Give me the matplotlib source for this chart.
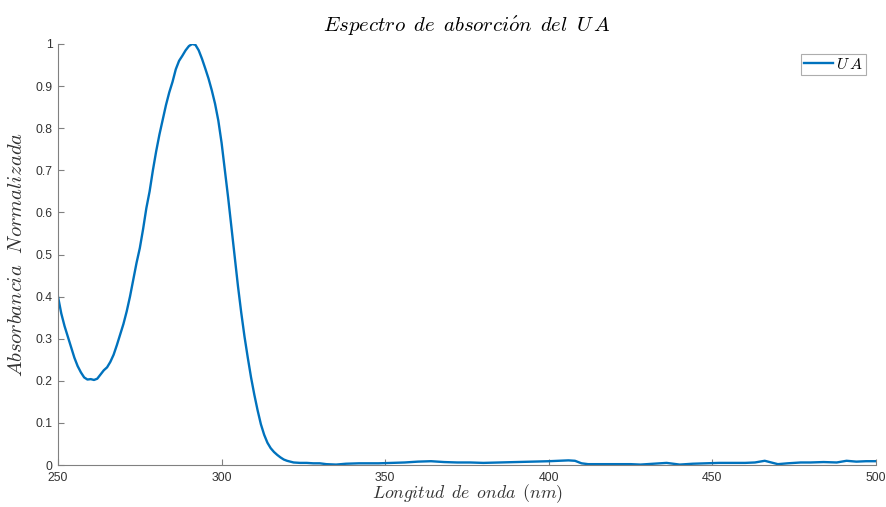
import matplotlib
matplotlib.use("Agg")
import matplotlib.pyplot as plt
from matplotlib.ticker import FuncFormatter

# wavelength (nm) and normalised absorbance
wavelength = [250, 251, 252, 253, 254, 255, 256, 257, 258, 259, 260, 261, 262, 263, 264,
              265, 266, 267, 268, 269, 270, 271, 272, 273, 274, 275, 276, 277, 278, 279,
              280, 281, 282, 283, 284, 285, 286, 287, 288, 289, 290, 291, 292, 293, 294,
              295, 296, 297, 298, 299, 300, 301, 302, 303, 304, 305, 306, 307, 308, 309,
              310, 311, 312, 313, 314, 315, 316, 317, 318, 319, 320, 321, 322, 324, 326,
              328, 330, 332, 335, 338, 342, 348, 352, 356, 360, 364, 368, 372, 376, 380,
              385, 390, 395, 400, 403, 406, 408, 410, 412, 416, 420, 425, 428, 432, 436,
              440, 444, 448, 452, 456, 460, 463, 466, 468, 470, 473, 477, 480, 484, 488,
              491, 494, 497, 500]
absorbance = [0.400, 0.360, 0.330, 0.305, 0.280, 0.255, 0.235, 0.220, 0.208, 0.203,
              0.204, 0.202, 0.205, 0.215, 0.225, 0.232, 0.245, 0.262, 0.285, 0.310,
              0.335, 0.365, 0.400, 0.440, 0.480, 0.515, 0.560, 0.610, 0.650, 0.700,
              0.745, 0.785, 0.820, 0.855, 0.885, 0.910, 0.940, 0.960, 0.972, 0.985,
              0.995, 1.000, 0.998, 0.985, 0.965, 0.942, 0.918, 0.890, 0.858, 0.818,
              0.765, 0.700, 0.635, 0.565, 0.495, 0.425, 0.362, 0.305, 0.255, 0.208,
              0.167, 0.130, 0.097, 0.072, 0.053, 0.040, 0.031, 0.024, 0.018, 0.013,
              0.010, 0.008, 0.006, 0.005, 0.005, 0.004, 0.004, 0.002, 0.001, 0.003,
              0.004, 0.004, 0.005, 0.006, 0.008, 0.009, 0.007, 0.006, 0.006, 0.005,
              0.006, 0.007, 0.008, 0.009, 0.010, 0.011, 0.010, 0.004, 0.002, 0.002,
              0.002, 0.002, 0.001, 0.003, 0.005, 0.001, 0.003, 0.004, 0.005, 0.005,
              0.005, 0.006, 0.010, 0.006, 0.002, 0.004, 0.006, 0.006, 0.007, 0.006,
              0.010, 0.008, 0.009, 0.009]

x_ticks = [250, 300, 350, 400, 450, 500]
y_ticks = [0, 0.1, 0.2, 0.3, 0.4, 0.5, 0.6, 0.7, 0.8, 0.9, 1]

plt.rcParams['mathtext.fontset'] = 'cm'
plt.rcParams['font.family'] = ['Liberation Sans', 'DejaVu Sans']

fig = plt.figure(figsize=(8.87, 5.07), dpi=100)
ax = fig.add_axes([58 / 887, 42 / 507, 818 / 887, 421 / 507])

ax.plot(wavelength, absorbance, color='#0072BD', lw=1.7, label=r'$U\,A$')

ax.set_xlim(250, 500)
ax.set_ylim(0, 1)
ax.set_xticks(x_ticks)
ax.set_yticks(y_ticks)
ax.xaxis.set_major_formatter(FuncFormatter(lambda v, p: '%g' % v))
ax.yaxis.set_major_formatter(FuncFormatter(lambda v, p: '%g' % v))

for side in ['top', 'right']:
    ax.spines[side].set_visible(False)
for side in ['left', 'bottom']:
    ax.spines[side].set_color('#808080')
    ax.spines[side].set_linewidth(0.8)
ax.tick_params(direction='in', length=4, width=0.8, color='#808080',
               labelsize=8.8, labelcolor='#333333')
ax.tick_params(axis='x', pad=5)
ax.tick_params(axis='y', pad=4)

ax.set_title(r'$Espectro\ \,de\ \,absorci\acute{o}n\ \,del\ \,U\,A$', fontsize=15, pad=9)
ax.set_xlabel(r'$Longitud\ \,de\ \,onda\ \,(nm)$', fontsize=12.8, labelpad=-1, color='#333333')
ax.set_ylabel(r'$Absorbancia\ \ Normalizada$', fontsize=14.8, labelpad=7, color='#333333')

leg = ax.legend(loc='upper right', fontsize=11.5, frameon=True, fancybox=False,
                handlelength=1.8, handletextpad=0.2, borderpad=0.2,
                borderaxespad=0.6)
leg.get_frame().set_edgecolor('#999999')
leg.get_frame().set_linewidth(0.8)

fig.savefig('out.png', dpi=100)
